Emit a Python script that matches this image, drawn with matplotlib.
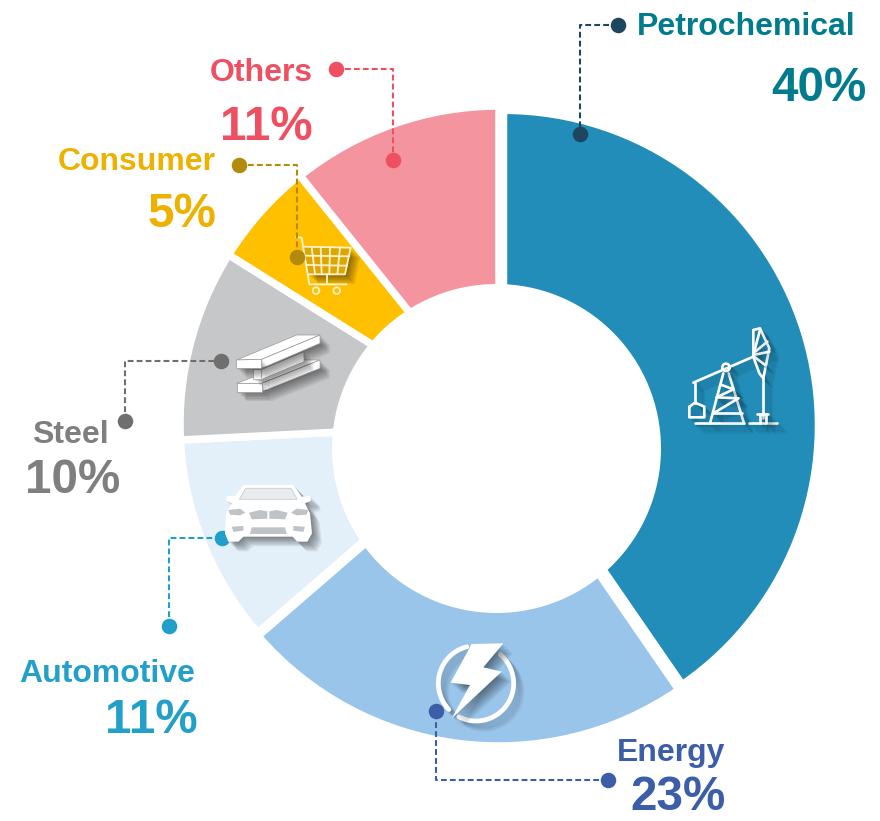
import numpy as np
import matplotlib
matplotlib.use("Agg")
import matplotlib.pyplot as plt
import matplotlib.patheffects as pe
from matplotlib.patches import Circle

categories = ["Petrochemical", "Energy", "Automotive", "Steel", "Consumer", "Others"]
shares = [40, 23, 11, 10, 5, 11]                     # printed labels
drawn_shares = [40.4, 23.25, 10.55, 9.7, 5.35, 10.75]  # slice sizes
slice_colors = ["#228DB8", "#9AC5EB", "#E3EFF9", "#C6C7C9", "#FFC000", "#F4949F"]
text_colors = ["#007C8E", "#3C5EA8", "#22A0CA", "#7F7F7F", "#EDB200", "#EE5062"]
dot_colors = ["#1F4661", "#3C5EA8", "#1F9FC9", "#6F6F6F", "#B28A0C", "#EE5062"]
W, H = 880, 821

plt.rcParams["font.family"] = ["Liberation Sans", "DejaVu Sans"]
plt.rcParams["font.weight"] = "bold"
fig = plt.figure(figsize=(W / 100, H / 100), dpi=100, facecolor="white")

# ---- donut: pie in y-up pixel space, with a separately placed hole
cx, cy, R = 499, 424, 319
pax = fig.add_axes([0, 0, 1, 1])
wedges, _ = pax.pie(drawn_shares, colors=slice_colors, startangle=90, counterclock=False,
                    center=(cx, H - cy), radius=R,
                    wedgeprops=dict(edgecolor="white", linewidth=5.4))
wedges[0].set_center((503.5, H - 425.3)); wedges[0].set_radius(315)
wedges[1].set_center((498.5, H - 428)); wedges[1].set_radius(318)
wedges[5].set_radius(318)
pax.add_patch(Circle((496.5, H - 448.5), 164.5, fc="white", ec="none", zorder=5))
pax.set_xlim(0, W); pax.set_ylim(0, H); pax.set_aspect("auto"); pax.axis("off")

# ---- overlay in y-down pixel units
ax = fig.add_axes([0, 0, 1, 1])
ax.set_xlim(0, W); ax.set_ylim(H, 0); ax.axis("off"); ax.patch.set_alpha(0)

def shadow():
    return [pe.SimpleLineShadow(offset=(o, -o), shadow_color="#000000", alpha=0.05)
            for o in (1, 2, 3, 4, 5, 6)] + [pe.Normal()]

def pshadow():
    return [pe.SimplePatchShadow(offset=(o, -o), shadow_rgbFace="#000000", alpha=0.075)
            for o in (1, 2, 3, 4, 5, 6, 7)] + [pe.Normal()]

def pts(ox, oy, seq):
    a = np.asarray(seq, float)
    return a[:, 0] / 3 + ox, a[:, 1] / 3 + oy

def line(ox, oy, seq, lw=1.5, c="white", z=3):
    x, y = pts(ox, oy, seq)
    ax.plot(x, y, color=c, lw=lw, solid_capstyle="round", solid_joinstyle="round",
            zorder=z, path_effects=shadow())

def poly(ox, oy, seq, fc="white", ec="none", lw=0, z=3, sh=True):
    x, y = pts(ox, oy, seq)
    p = ax.fill(x, y, facecolor=fc, edgecolor=ec, lw=lw, zorder=z)[0]
    if sh:
        p.set_path_effects(pshadow())

def ring(ox, oy, c, rad, t0, t1, lw):
    t = np.radians(np.linspace(t0, t1, 80))
    line(ox, oy, np.c_[c[0] + rad * np.cos(t), c[1] + rad * np.sin(t)], lw=lw)

# pumpjack
o = (670, 310)
for s in [
    [(70, 218), (250, 140)], [(75, 218), (75, 278)],
    [(58, 290), (75, 278), (103, 290), (103, 322), (58, 322), (58, 290)],
    [(120, 340), (160, 190)], [(176, 190), (222, 340)],
    [(75, 340), (222, 340)], [(238, 340), (322, 340)],
    [(250, 60), (270, 55), (298, 115), (280, 205), (268, 190), (250, 140), (250, 60)],
    [(278, 205), (278, 325)], [(262, 313), (295, 313)],
    [(270, 313), (270, 340)], [(287, 313), (287, 340)],
    [(250, 130), (292, 95)], [(250, 135), (298, 125)], [(250, 138), (285, 165)], [(270, 60), (250, 135)],
    [(155, 225), (190, 238)], [(190, 238), (140, 262)], [(140, 262), (205, 265)],
    [(205, 265), (130, 310)], [(130, 310), (215, 310)],
]:
    line(*o, s, lw=1.9)
ring(*o, (168, 172), 11, 0, 360, 1.9)

# bolt
o = (420, 630)
ring(*o, (168, 160), 113, 136, 256, 3.4)
ring(*o, (168, 160), 113, -50, 117, 3.4)
poly(*o, [(155, 42), (250, 40), (190, 112), (245, 125), (95, 265), (150, 165), (92, 158)])

# car (sits above its leader dot)
o = (210, 470)
poly(*o, [(100, 45), (250, 45), (275, 80), (300, 78), (303, 92), (285, 100), (300, 130), (306, 190),
          (292, 215), (262, 215), (248, 200), (100, 200), (85, 215), (55, 215), (45, 190), (48, 130),
          (65, 100), (48, 92), (50, 78), (75, 78)], z=6.5)
poly(*o, [(107, 55), (243, 55), (262, 88), (88, 88)], fc="#E8ECEF", ec="#C9CED2", lw=0.6, z=6.6, sh=False)
grey = "#BFC3C6"
for seq in [
    [(55, 120), (90, 116), (106, 128), (90, 136), (60, 134)],
    [(295, 120), (260, 116), (243, 128), (260, 136), (290, 134)],
    [(117, 128), (150, 120), (172, 124), (172, 146), (125, 148)],
    [(233, 128), (200, 120), (178, 124), (178, 146), (225, 148)],
    [(65, 170), (100, 168), (100, 182), (70, 186)],
    [(285, 170), (250, 168), (250, 182), (280, 186)],
    [(125, 172), (225, 172), (230, 192), (120, 192)],
]:
    poly(*o, seq, fc=grey, z=6.6, sh=False)

# steel beam
o = (210, 320)
e = "#9A9A9A"
for seq in [
    [(80, 190), (265, 120), (330, 120), (155, 190)],
    [(155, 190), (330, 120), (330, 145), (155, 215)],
    [(80, 190), (155, 190), (155, 215), (80, 215)],
    [(130, 148), (155, 148), (155, 178), (130, 178)],
    [(155, 148), (282, 95), (282, 125), (155, 178)],
    [(80, 120), (260, 45), (330, 45), (155, 118)],
    [(155, 118), (330, 45), (330, 70), (155, 145)],
    [(80, 120), (155, 118), (155, 145), (80, 145)],
]:
    poly(*o, seq, ec=e, lw=0.5)

# cart
o = (280, 225)
cc = "#FFF3CF"
poly(*o, [(70, 65), (212, 68), (195, 148), (85, 148)], fc="#DDA600", z=2.5)
for s in [
    [(48, 36), (65, 38), (88, 178), (200, 178)],
    [(70, 65), (212, 68), (195, 148), (85, 148)],
    [(75, 92), (207, 94)], [(80, 120), (201, 122)],
    [(95, 66), (105, 148)], [(122, 66), (125, 148)], [(150, 67), (148, 148)], [(180, 67), (172, 148)],
    [(140, 148), (140, 178)],
]:
    x, y = pts(*o, s)
    ax.plot(x, y, color=cc, lw=1.3, solid_capstyle="round", zorder=3)
t = np.radians(np.linspace(0, 360, 40))
for wx in (108, 170):
    x, y = pts(*o, np.c_[wx + 10 * np.cos(t), 197 + 10 * np.sin(t)])
    ax.plot(x, y, color=cc, lw=1.2, zorder=3)

# ---- leaders and labels
leaders = [
    [(618, 25), (580, 25), (580, 134)],
    [(608, 780), (436, 780), (436, 711)],
    [(169, 626), (169, 538), (222, 538)],
    [(125, 421), (125, 361), (221, 361)],
    [(239, 165), (297, 165), (297, 257)],
    [(336, 69), (393, 69), (393, 160)],
]
for path, col in zip(leaders, dot_colors):
    a = np.array(path)
    ax.plot(a[:, 0], a[:, 1], color=col, lw=1.5, dashes=(2.8, 1.5), zorder=5)
    ax.scatter(a[[0, -1], 0], a[[0, -1], 1], s=125, color=col, linewidths=0, zorder=6)

name_pos = [(637, 35, "left"), (617, 761, "left"), (19, 682, "left"),
            (32, 443, "left"), (58, 170, "left"), (210, 81, "left")]
pct_pos = [(866, 101, "right"), (726, 810, "right"), (198, 733, "right"),
           (120, 493, "right"), (216, 227, "right"), (313, 140, "right")]
for n, v, col, p, q in zip(categories, shares, text_colors, name_pos, pct_pos):
    ax.text(p[0], p[1], n, color=col, fontsize=23, ha=p[2], va="baseline", zorder=7)
    ax.text(q[0], q[1], f"{v}%", color=col, fontsize=34.3, ha=q[2], va="baseline", zorder=7)

fig.savefig("out.png", dpi=100, facecolor="white")
